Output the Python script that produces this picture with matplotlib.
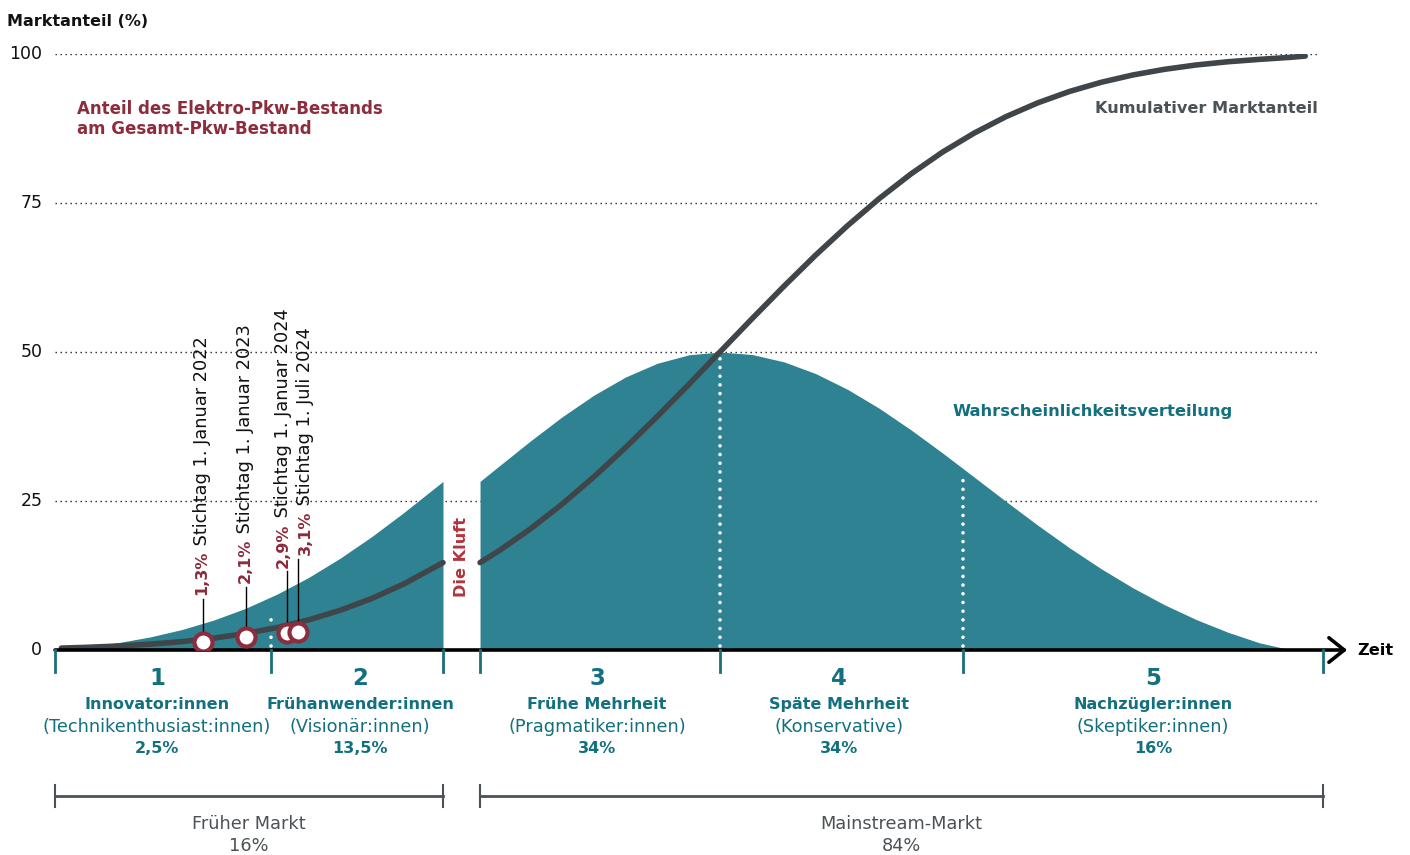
import matplotlib
matplotlib.use('Agg')
import matplotlib.pyplot as plt

plt.rcParams['font.family'] = ['DejaVu Sans']

# Verlauf links und rechts der Kluft (Zeit-Achse 0..100)
zeit_links = [0.5, 2.5, 5, 7.5, 10, 12.5, 15, 17.5, 20, 22.5, 25, 27.5, 30.6]
glocke_links = [0.1, 0.53, 1.24, 2.19, 3.43, 5.01, 6.97, 9.36, 12.17, 15.42, 19.06, 23.05, 28.29]
kumuliert_links = [0.32, 0.45, 0.67, 0.98, 1.40, 1.98, 2.76, 3.76, 5.05, 6.67, 8.66, 11.07, 14.66]

zeit_rechts = [33.52, 35, 37.5, 40, 42.5, 45, 47.5, 50, 52.44, 55, 57.5, 60, 62.5, 65,
               67.5, 70, 72.5, 75, 77.5, 80, 82.5, 85, 87.5, 90, 92.5, 95, 97.5, 98.6]
glocke_rechts = [28.29, 30.83, 35.09, 39.13, 42.76, 45.81, 48.11, 49.53, 50.0, 49.57, 48.34,
                 46.37, 43.74, 40.56, 36.95, 33.05, 29.00, 24.93, 20.95, 17.16, 13.64, 10.44,
                 7.59, 5.11, 2.98, 1.20, 0.0, 0.0]
kumuliert_rechts = [14.66, 16.63, 20.33, 24.48, 29.05, 33.98, 39.20, 44.59, 50.0, 55.65, 61.06,
                    66.28, 71.19, 75.74, 79.87, 83.55, 86.74, 89.49, 91.80, 93.71, 95.25, 96.48,
                    97.43, 98.16, 98.70, 99.10, 99.45, 99.65]

# Segmentgrenzen auf der Zeitachse
grenzen = [0, 17.03, 30.6, 33.52, 52.44, 71.6, 100]
trenner = [17.03, 52.44, 71.6]
trenner_hoehe = [6.4, 49.4, 29.9]

segment_nr = ['1', '2', '3', '4', '5']
segment_name = ['Innovator:innen', 'Frühanwender:innen', 'Frühe Mehrheit', 'Späte Mehrheit',
                'Nachzügler:innen']
segment_typ = ['(Technikenthusiast:innen)', '(Visionär:innen)', '(Pragmatiker:innen)',
               '(Konservative)', '(Skeptiker:innen)']
segment_anteil = [2.5, 13.5, 34, 34, 16]
segment_mitte = [8.04, 24.05, 42.74, 61.83, 86.59]

markt_name = ['Früher Markt', 'Mainstream-Markt']
markt_anteil = [16, 84]
markt_von = [0, 33.52]
markt_bis = [30.6, 100]

# Elektro-Pkw-Anteil an den Stichtagen
stichtag = ['1. Januar 2022', '1. Januar 2023', '1. Januar 2024', '1. Juli 2024']
stichtag_zeit = [11.67, 15.06, 18.30, 19.16]
ev_anteil = [1.3, 2.1, 2.9, 3.1]
label_x = [11.59, 14.98, 17.98, 19.72]
label_y = [9.2, 11.2, 13.8, 15.9]

yticks = [0, 25, 50, 75, 100]

teal = '#2F8291'
teal_text = '#12707F'
weinrot = '#8C2C3D'
kluft_rot = '#B3333B'
grau = '#3F4549'
grau_text = '#4B5256'


def prozent(v):
    s = ('%.1f' % v).rstrip('0').rstrip('.')
    return s.replace('.', ',') + '%'


fig = plt.figure(figsize=(14.1, 8.55), dpi=100)
ax = fig.add_axes([55 / 1410, 205 / 855, 1268 / 1410, 596 / 855])
ax.set_xlim(0, 100)
ax.set_ylim(0, 100)
ax.axis('off')

# Gitterlinien und y-Beschriftung
for y in yticks:
    if y > 0:
        ax.plot([0, 99.7], [y, y], color='#222222', lw=1, ls=(0, (1, 2.6)), zorder=1)
    ax.text(-1.0, y, str(y), ha='right', va='center', fontsize=12.5, color='#111111')
ax.text(-3.75, 105.4, 'Marktanteil (%)', ha='left', va='center', fontsize=11.5,
        weight='bold', color='#111111', clip_on=False)

# Glockenkurve mit Kluft
ax.fill_between(zeit_links, 0, glocke_links, color=teal, lw=0, zorder=2)
ax.fill_between(zeit_rechts, 0, glocke_rechts, color=teal, lw=0, zorder=2)

for x, h in zip(trenner, trenner_hoehe):
    ax.plot([x, x], [0.6, h], color='white', lw=2.6, ls=(0, (0.01, 2.4)),
            solid_capstyle='round', dash_capstyle='round', zorder=3)

# kumulativer Marktanteil
ax.plot(zeit_links, kumuliert_links, color=grau, lw=4, solid_capstyle='round', zorder=4)
ax.plot(zeit_rechts, kumuliert_rechts, color=grau, lw=4, solid_capstyle='round', zorder=4)

ax.text(32.06, 15.6, 'Die Kluft', rotation=90, ha='center', va='center', fontsize=11.6,
        weight='bold', color=kluft_rot, zorder=5)

# Zeitachse mit Pfeil
ax.annotate('', xy=(101.9, 0), xytext=(0, 0), xycoords='data',
            arrowprops=dict(arrowstyle='->,head_length=0.5,head_width=0.4', lw=2.6,
                            color='black', mutation_scale=22, shrinkA=0, shrinkB=0),
            zorder=6, annotation_clip=False)
ax.text(102.7, 0, 'Zeit', ha='left', va='center', fontsize=11.6, weight='bold',
        color='black', clip_on=False)
for g in grenzen:
    ax.plot([g, g], [0, -3.7], color='#1B6E7C', lw=2, clip_on=False, zorder=6)

# Segmentbeschriftung
for nr, name, typ, anteil, xm in zip(segment_nr, segment_name, segment_typ,
                                     segment_anteil, segment_mitte):
    ax.text(xm, -4.7, nr, ha='center', va='center', fontsize=16.5, weight='bold',
            color=teal_text, clip_on=False)
    ax.text(xm, -9.2, name, ha='center', va='center', fontsize=11.5, weight='bold',
            color=teal_text, clip_on=False)
    ax.text(xm, -12.9, typ, ha='center', va='center', fontsize=12.8,
            color=teal_text, clip_on=False)
    ax.text(xm, -16.6, prozent(anteil), ha='center', va='center', fontsize=11.5,
            weight='bold', color=teal_text, clip_on=False)

# Klammern Früher Markt / Mainstream-Markt
for name, anteil, x0, x1 in zip(markt_name, markt_anteil, markt_von, markt_bis):
    ax.plot([x0, x1], [-24.5, -24.5], color=grau_text, lw=2, clip_on=False)
    for x in (x0, x1):
        ax.plot([x, x], [-22.7, -26.3], color=grau_text, lw=1.5, clip_on=False)
    xm = (x0 + x1) / 2
    ax.text(xm, -29.2, name, ha='center', va='center', fontsize=12.8,
            color=grau_text, clip_on=False)
    ax.text(xm, -32.9, prozent(anteil), ha='center', va='center', fontsize=12.8,
            color=grau_text, clip_on=False)

# Stichtage mit Elektro-Pkw-Anteil
for datum, zx, wert, lx, ly in zip(stichtag, stichtag_zeit, ev_anteil, label_x, label_y):
    ax.plot([zx, zx], [wert, ly - 0.6], color='black', lw=1, zorder=5)
    ax.plot(zx, wert, 'o', ms=13, mfc='white', mec=weinrot, mew=3, zorder=7)
    t1 = ax.text(lx, ly, prozent(wert), rotation=90, ha='center', va='bottom',
                 fontsize=11.5, weight='bold', color=weinrot, zorder=7)
    ax.annotate(' Stichtag ' + datum, xy=(0.5, 1), xycoords=t1, rotation=90,
                ha='center', va='bottom', fontsize=12.8, color='#111111', zorder=7)

# Kurvenbeschriftungen
ax.text(1.74, 89.1, 'Anteil des Elektro-Pkw-Bestands\nam Gesamt-Pkw-Bestand', ha='left',
        va='center', fontsize=12, weight='bold', color=weinrot, linespacing=1.2)
ax.text(99.6, 90.9, 'Kumulativer Marktanteil', ha='right', va='center', fontsize=11.6,
        weight='bold', color=grau_text)
ax.text(70.8, 40.1, 'Wahrscheinlichkeitsverteilung', ha='left', va='center', fontsize=11.8,
        weight='bold', color=teal_text)

fig.savefig('out.png', dpi=100)
